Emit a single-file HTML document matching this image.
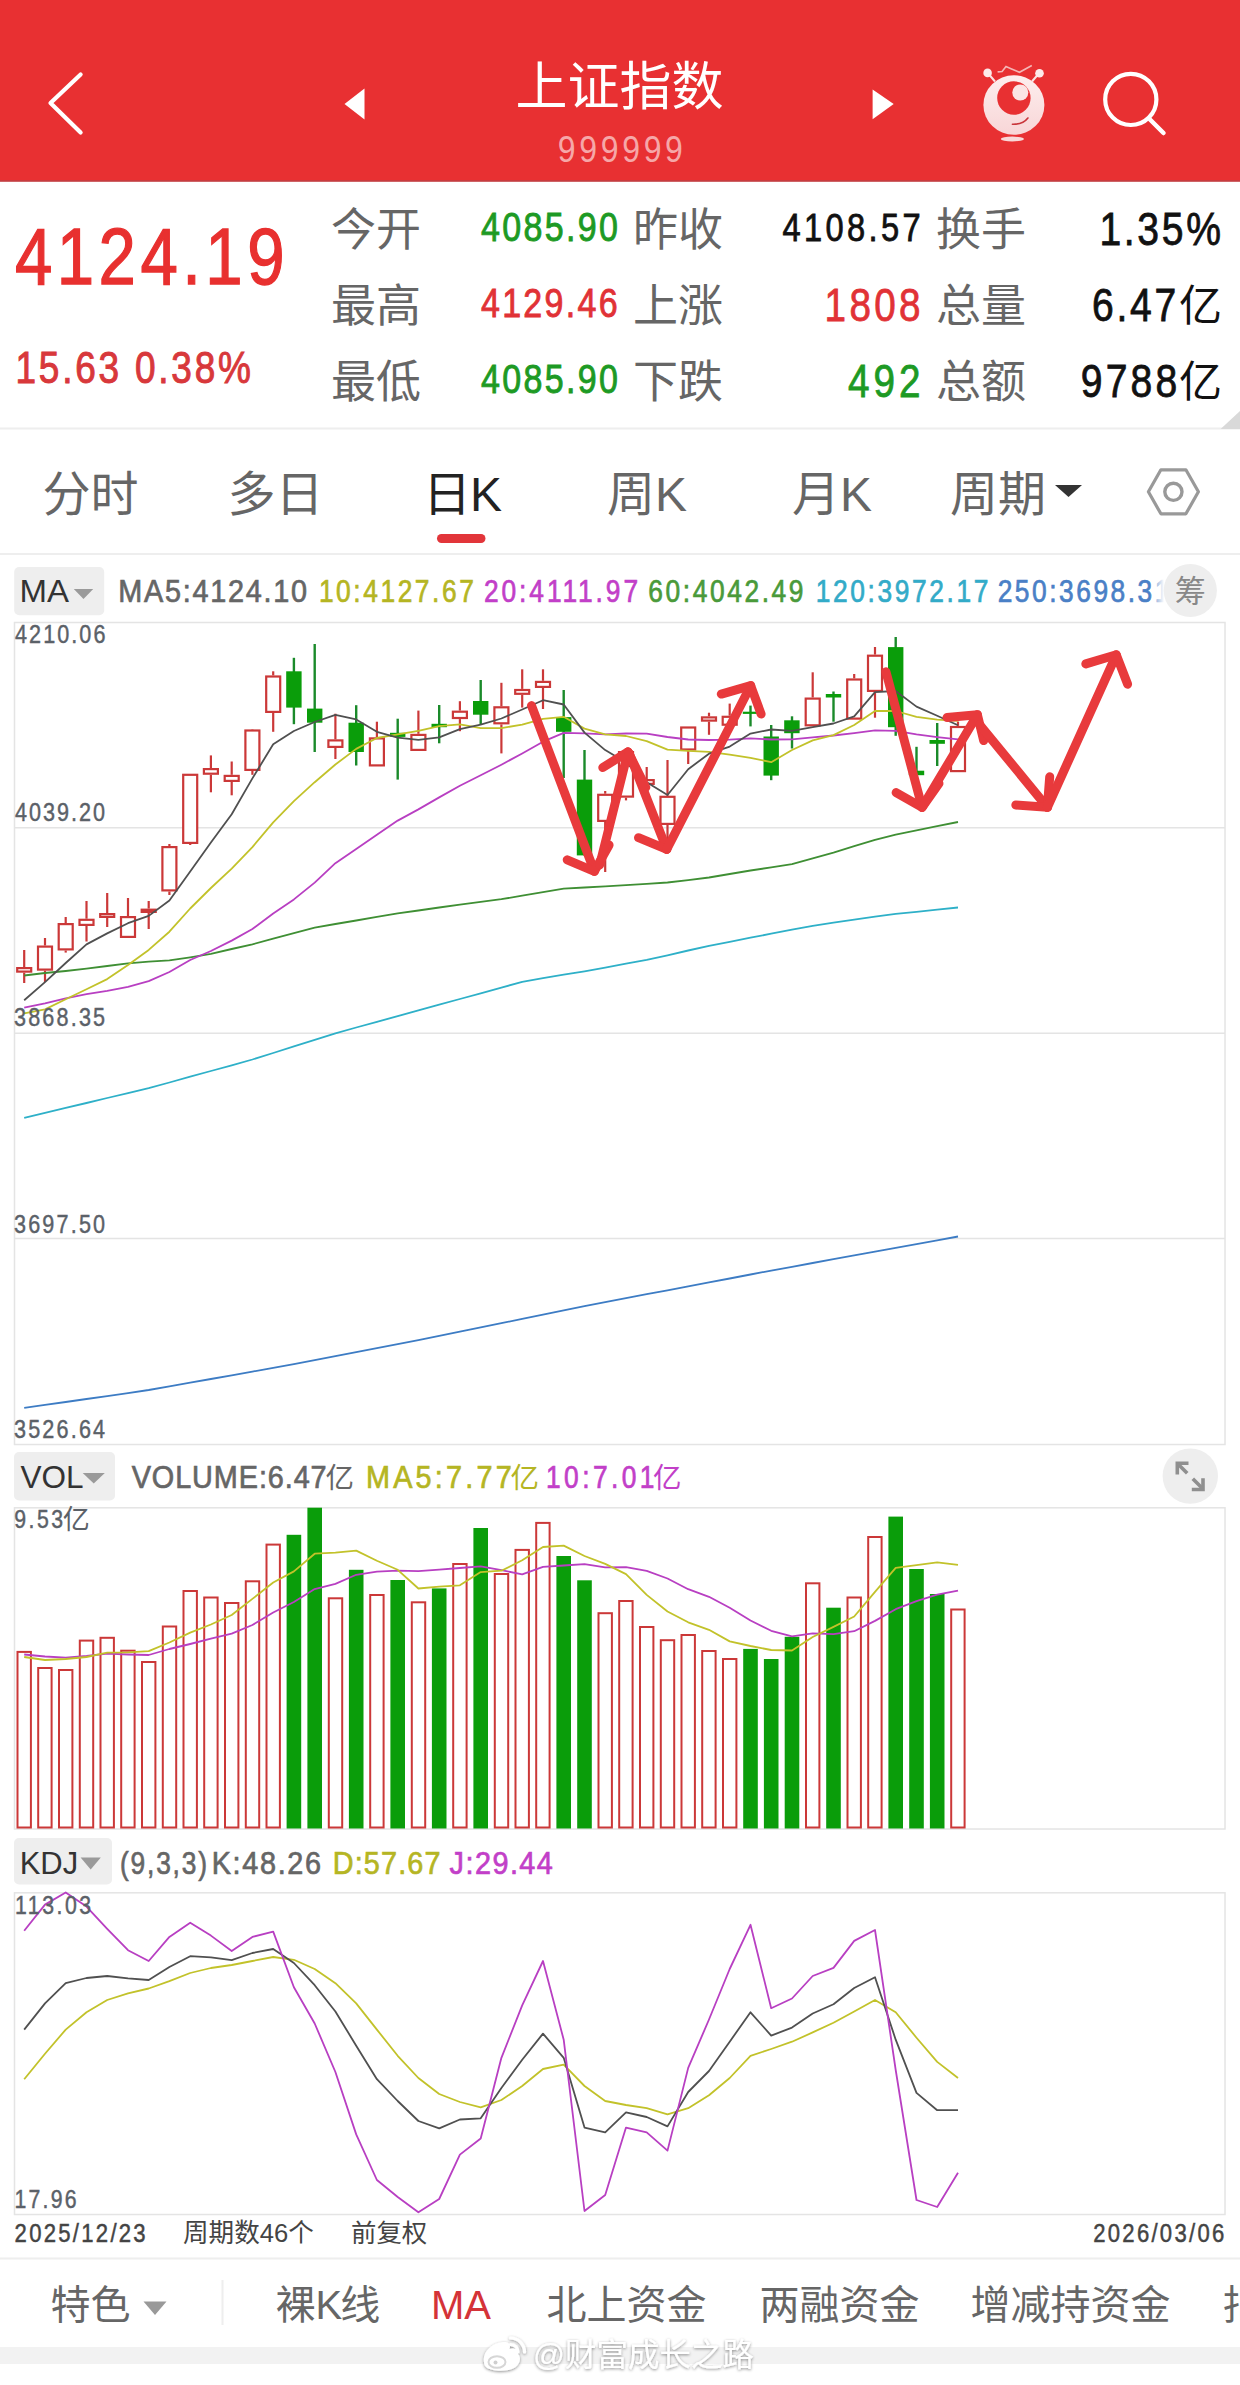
<!DOCTYPE html>
<html><head><meta charset="utf-8"><title>上证指数</title>
<style>
html,body{margin:0;padding:0;background:#fff;}
body{width:1240px;height:2385px;overflow:hidden;position:relative;}
svg{position:absolute;left:0;top:0;display:block;}
svg text{font-family:"Liberation Sans","Noto Sans CJK SC",sans-serif;}
</style></head><body>
<svg width="1240" height="2385" viewBox="0 0 1240 2385">
<rect x="14.5" y="622.5" width="1210.5" height="822.0" fill="none" stroke="#e4e4e4" stroke-width="1.5"/>
<line x1="14.5" y1="827.8" x2="1225" y2="827.8" stroke="#e4e4e4" stroke-width="1.5"/>
<line x1="14.5" y1="1033.2" x2="1225" y2="1033.2" stroke="#e4e4e4" stroke-width="1.5"/>
<line x1="14.5" y1="1238.6" x2="1225" y2="1238.6" stroke="#e4e4e4" stroke-width="1.5"/>
<rect x="14.5" y="1507.8" width="1210.5" height="321.20000000000005" fill="none" stroke="#e4e4e4" stroke-width="1.5"/>
<rect x="14.5" y="1892.8" width="1210.5" height="321.70000000000005" fill="none" stroke="#e4e4e4" stroke-width="1.5"/>
<line x1="24.2" y1="950" x2="24.2" y2="967" stroke="#cb3838" stroke-width="2.2"/>
<line x1="24.2" y1="972.7" x2="24.2" y2="983" stroke="#cb3838" stroke-width="2.2"/>
<rect x="17.2" y="968.1" width="14.0" height="3.5" fill="#fff" stroke="#cb3838" stroke-width="2.2"/>
<line x1="45.0" y1="938" x2="45.0" y2="945.5" stroke="#cb3838" stroke-width="2.2"/>
<line x1="45.0" y1="970.7" x2="45.0" y2="982" stroke="#cb3838" stroke-width="2.2"/>
<rect x="38.0" y="946.6" width="14.0" height="23.0" fill="#fff" stroke="#cb3838" stroke-width="2.2"/>
<line x1="65.7" y1="917" x2="65.7" y2="923" stroke="#cb3838" stroke-width="2.2"/>
<line x1="65.7" y1="950.5" x2="65.7" y2="952.6" stroke="#cb3838" stroke-width="2.2"/>
<rect x="58.7" y="924.1" width="14.0" height="25.3" fill="#fff" stroke="#cb3838" stroke-width="2.2"/>
<line x1="86.5" y1="901" x2="86.5" y2="918.7" stroke="#cb3838" stroke-width="2.2"/>
<line x1="86.5" y1="926" x2="86.5" y2="941.5" stroke="#cb3838" stroke-width="2.2"/>
<rect x="79.5" y="919.8" width="14.0" height="5.1" fill="#fff" stroke="#cb3838" stroke-width="2.2"/>
<line x1="107.2" y1="893" x2="107.2" y2="913" stroke="#cb3838" stroke-width="2.2"/>
<line x1="107.2" y1="918" x2="107.2" y2="927" stroke="#cb3838" stroke-width="2.2"/>
<rect x="100.2" y="914.1" width="14.0" height="2.8" fill="#fff" stroke="#cb3838" stroke-width="2.2"/>
<line x1="128.0" y1="898" x2="128.0" y2="916" stroke="#cb3838" stroke-width="2.2"/>
<line x1="128.0" y1="938" x2="128.0" y2="938" stroke="#cb3838" stroke-width="2.2"/>
<rect x="121.0" y="917.1" width="14.0" height="19.8" fill="#fff" stroke="#cb3838" stroke-width="2.2"/>
<line x1="148.7" y1="901" x2="148.7" y2="908.6" stroke="#cb3838" stroke-width="2.2"/>
<line x1="148.7" y1="913" x2="148.7" y2="929" stroke="#cb3838" stroke-width="2.2"/>
<rect x="141.7" y="909.7" width="14.0" height="2.2" fill="#fff" stroke="#cb3838" stroke-width="2.2"/>
<line x1="169.4" y1="844" x2="169.4" y2="846" stroke="#cb3838" stroke-width="2.2"/>
<line x1="169.4" y1="891.5" x2="169.4" y2="895" stroke="#cb3838" stroke-width="2.2"/>
<rect x="162.4" y="847.1" width="14.0" height="43.3" fill="#fff" stroke="#cb3838" stroke-width="2.2"/>
<line x1="190.2" y1="773.7" x2="190.2" y2="773.7" stroke="#cb3838" stroke-width="2.2"/>
<line x1="190.2" y1="844" x2="190.2" y2="845" stroke="#cb3838" stroke-width="2.2"/>
<rect x="183.2" y="774.8" width="14.0" height="68.1" fill="#fff" stroke="#cb3838" stroke-width="2.2"/>
<line x1="210.9" y1="755.4" x2="210.9" y2="768" stroke="#cb3838" stroke-width="2.2"/>
<line x1="210.9" y1="774.8" x2="210.9" y2="792.3" stroke="#cb3838" stroke-width="2.2"/>
<rect x="203.9" y="769.1" width="14.0" height="4.6" fill="#fff" stroke="#cb3838" stroke-width="2.2"/>
<line x1="231.7" y1="761.5" x2="231.7" y2="774.8" stroke="#cb3838" stroke-width="2.2"/>
<line x1="231.7" y1="782" x2="231.7" y2="795.3" stroke="#cb3838" stroke-width="2.2"/>
<rect x="224.7" y="775.9" width="14.0" height="5.0" fill="#fff" stroke="#cb3838" stroke-width="2.2"/>
<line x1="252.4" y1="729" x2="252.4" y2="729.4" stroke="#cb3838" stroke-width="2.2"/>
<line x1="252.4" y1="771" x2="252.4" y2="774.8" stroke="#cb3838" stroke-width="2.2"/>
<rect x="245.4" y="730.5" width="14.0" height="39.4" fill="#fff" stroke="#cb3838" stroke-width="2.2"/>
<line x1="273.2" y1="671.3" x2="273.2" y2="675.4" stroke="#cb3838" stroke-width="2.2"/>
<line x1="273.2" y1="713" x2="273.2" y2="731.8" stroke="#cb3838" stroke-width="2.2"/>
<rect x="266.2" y="676.5" width="14.0" height="35.4" fill="#fff" stroke="#cb3838" stroke-width="2.2"/>
<line x1="293.9" y1="657.8" x2="293.9" y2="724.2" stroke="#1a8a2a" stroke-width="2.4"/>
<rect x="286.2" y="671.3" width="15.4" height="36.3" fill="#0a9d0a"/>
<line x1="314.7" y1="644" x2="314.7" y2="752" stroke="#1a8a2a" stroke-width="2.4"/>
<rect x="307.0" y="708.6" width="15.4" height="14.1" fill="#0a9d0a"/>
<line x1="335.4" y1="713.7" x2="335.4" y2="739.3" stroke="#cb3838" stroke-width="2.2"/>
<line x1="335.4" y1="748" x2="335.4" y2="759" stroke="#cb3838" stroke-width="2.2"/>
<rect x="328.4" y="740.4" width="14.0" height="6.5" fill="#fff" stroke="#cb3838" stroke-width="2.2"/>
<line x1="356.2" y1="705.2" x2="356.2" y2="765.5" stroke="#1a8a2a" stroke-width="2.4"/>
<rect x="348.5" y="722.7" width="15.4" height="29.3" fill="#0a9d0a"/>
<line x1="376.9" y1="721.7" x2="376.9" y2="737.3" stroke="#cb3838" stroke-width="2.2"/>
<line x1="376.9" y1="766.5" x2="376.9" y2="766.5" stroke="#cb3838" stroke-width="2.2"/>
<rect x="369.9" y="738.4" width="14.0" height="27.0" fill="#fff" stroke="#cb3838" stroke-width="2.2"/>
<line x1="397.7" y1="718.7" x2="397.7" y2="779.6" stroke="#1a8a2a" stroke-width="2.4"/>
<rect x="390.0" y="732.8" width="15.4" height="4.1" fill="#0a9d0a"/>
<line x1="418.4" y1="710.6" x2="418.4" y2="733.8" stroke="#cb3838" stroke-width="2.2"/>
<line x1="418.4" y1="751" x2="418.4" y2="751" stroke="#cb3838" stroke-width="2.2"/>
<rect x="411.4" y="734.9" width="14.0" height="15.0" fill="#fff" stroke="#cb3838" stroke-width="2.2"/>
<line x1="439.2" y1="705" x2="439.2" y2="743.3" stroke="#1a8a2a" stroke-width="2.4"/>
<rect x="431.5" y="723.8" width="15.4" height="3.4" fill="#0a9d0a"/>
<line x1="459.9" y1="701.2" x2="459.9" y2="710.6" stroke="#cb3838" stroke-width="2.2"/>
<line x1="459.9" y1="719.1" x2="459.9" y2="731.2" stroke="#cb3838" stroke-width="2.2"/>
<rect x="452.9" y="711.7" width="14.0" height="6.3" fill="#fff" stroke="#cb3838" stroke-width="2.2"/>
<line x1="480.7" y1="680" x2="480.7" y2="724.8" stroke="#1a8a2a" stroke-width="2.4"/>
<rect x="473.0" y="701.0" width="15.4" height="13.7" fill="#0a9d0a"/>
<line x1="501.4" y1="682.8" x2="501.4" y2="706.2" stroke="#cb3838" stroke-width="2.2"/>
<line x1="501.4" y1="724.4" x2="501.4" y2="753.4" stroke="#cb3838" stroke-width="2.2"/>
<rect x="494.4" y="707.3" width="14.0" height="16.0" fill="#fff" stroke="#cb3838" stroke-width="2.2"/>
<line x1="522.2" y1="669.3" x2="522.2" y2="688.9" stroke="#cb3838" stroke-width="2.2"/>
<line x1="522.2" y1="694.9" x2="522.2" y2="707.6" stroke="#cb3838" stroke-width="2.2"/>
<rect x="515.2" y="690.0" width="14.0" height="3.8" fill="#fff" stroke="#cb3838" stroke-width="2.2"/>
<line x1="543.0" y1="669.3" x2="543.0" y2="680.8" stroke="#cb3838" stroke-width="2.2"/>
<line x1="543.0" y1="688" x2="543.0" y2="709" stroke="#cb3838" stroke-width="2.2"/>
<rect x="536.0" y="681.9" width="14.0" height="5.0" fill="#fff" stroke="#cb3838" stroke-width="2.2"/>
<line x1="563.7" y1="690" x2="563.7" y2="778" stroke="#1a8a2a" stroke-width="2.4"/>
<rect x="556.0" y="717.1" width="15.4" height="14.7" fill="#0a9d0a"/>
<line x1="584.5" y1="750" x2="584.5" y2="855.4" stroke="#1a8a2a" stroke-width="2.4"/>
<rect x="576.8" y="779.6" width="15.4" height="75.8" fill="#0a9d0a"/>
<line x1="605.2" y1="791" x2="605.2" y2="793.7" stroke="#cb3838" stroke-width="2.2"/>
<line x1="605.2" y1="822" x2="605.2" y2="872" stroke="#cb3838" stroke-width="2.2"/>
<rect x="598.2" y="794.8" width="14.0" height="26.1" fill="#fff" stroke="#cb3838" stroke-width="2.2"/>
<line x1="626.0" y1="748.5" x2="626.0" y2="751" stroke="#cb3838" stroke-width="2.2"/>
<line x1="626.0" y1="797.7" x2="626.0" y2="800.4" stroke="#cb3838" stroke-width="2.2"/>
<rect x="619.0" y="752.1" width="14.0" height="44.5" fill="#fff" stroke="#cb3838" stroke-width="2.2"/>
<line x1="646.7" y1="767" x2="646.7" y2="779" stroke="#cb3838" stroke-width="2.2"/>
<line x1="646.7" y1="785" x2="646.7" y2="790" stroke="#cb3838" stroke-width="2.2"/>
<rect x="639.7" y="780.1" width="14.0" height="3.8" fill="#fff" stroke="#cb3838" stroke-width="2.2"/>
<line x1="667.5" y1="760" x2="667.5" y2="795.7" stroke="#cb3838" stroke-width="2.2"/>
<line x1="667.5" y1="825" x2="667.5" y2="839.7" stroke="#cb3838" stroke-width="2.2"/>
<rect x="660.5" y="796.8" width="14.0" height="27.1" fill="#fff" stroke="#cb3838" stroke-width="2.2"/>
<line x1="688.2" y1="726.4" x2="688.2" y2="726.4" stroke="#cb3838" stroke-width="2.2"/>
<line x1="688.2" y1="750.6" x2="688.2" y2="764" stroke="#cb3838" stroke-width="2.2"/>
<rect x="681.2" y="727.5" width="14.0" height="22.0" fill="#fff" stroke="#cb3838" stroke-width="2.2"/>
<line x1="709.0" y1="712.7" x2="709.0" y2="716.3" stroke="#cb3838" stroke-width="2.2"/>
<line x1="709.0" y1="721.7" x2="709.0" y2="734.8" stroke="#cb3838" stroke-width="2.2"/>
<rect x="702.0" y="717.4" width="14.0" height="3.2" fill="#fff" stroke="#cb3838" stroke-width="2.2"/>
<line x1="729.7" y1="703.6" x2="729.7" y2="715.7" stroke="#cb3838" stroke-width="2.2"/>
<line x1="729.7" y1="725.8" x2="729.7" y2="725.8" stroke="#cb3838" stroke-width="2.2"/>
<rect x="722.7" y="716.8" width="14.0" height="7.9" fill="#fff" stroke="#cb3838" stroke-width="2.2"/>
<line x1="750.5" y1="705.6" x2="750.5" y2="726.4" stroke="#1a8a2a" stroke-width="2.4"/>
<rect x="742.8" y="711.7" width="15.4" height="2.2" fill="#0a9d0a"/>
<line x1="771.2" y1="725" x2="771.2" y2="780.2" stroke="#1a8a2a" stroke-width="2.4"/>
<rect x="763.5" y="736.5" width="15.4" height="39.1" fill="#0a9d0a"/>
<line x1="792.0" y1="716.3" x2="792.0" y2="748.5" stroke="#1a8a2a" stroke-width="2.4"/>
<rect x="784.2" y="720.3" width="15.4" height="12.9" fill="#0a9d0a"/>
<line x1="812.7" y1="672.3" x2="812.7" y2="697.5" stroke="#cb3838" stroke-width="2.2"/>
<line x1="812.7" y1="726.4" x2="812.7" y2="726.4" stroke="#cb3838" stroke-width="2.2"/>
<rect x="805.7" y="698.6" width="14.0" height="26.7" fill="#fff" stroke="#cb3838" stroke-width="2.2"/>
<line x1="833.5" y1="691.5" x2="833.5" y2="721.7" stroke="#1a8a2a" stroke-width="2.4"/>
<rect x="825.8" y="694.0" width="15.4" height="3.5" fill="#0a9d0a"/>
<line x1="854.2" y1="674" x2="854.2" y2="678.4" stroke="#cb3838" stroke-width="2.2"/>
<line x1="854.2" y1="719.7" x2="854.2" y2="719.7" stroke="#cb3838" stroke-width="2.2"/>
<rect x="847.2" y="679.5" width="14.0" height="39.1" fill="#fff" stroke="#cb3838" stroke-width="2.2"/>
<line x1="875.0" y1="647" x2="875.0" y2="654.6" stroke="#cb3838" stroke-width="2.2"/>
<line x1="875.0" y1="692" x2="875.0" y2="717.7" stroke="#cb3838" stroke-width="2.2"/>
<rect x="868.0" y="655.7" width="14.0" height="35.2" fill="#fff" stroke="#cb3838" stroke-width="2.2"/>
<line x1="895.7" y1="637" x2="895.7" y2="735.8" stroke="#1a8a2a" stroke-width="2.4"/>
<rect x="888.0" y="647.1" width="15.4" height="80.1" fill="#0a9d0a"/>
<line x1="916.5" y1="746.8" x2="916.5" y2="775.2" stroke="#1a8a2a" stroke-width="2.4"/>
<rect x="908.8" y="770.7" width="15.4" height="4.5" fill="#0a9d0a"/>
<line x1="937.2" y1="723" x2="937.2" y2="766" stroke="#1a8a2a" stroke-width="2.4"/>
<rect x="929.5" y="740.0" width="15.4" height="3.8" fill="#0a9d0a"/>
<line x1="958.0" y1="721.5" x2="958.0" y2="725.9" stroke="#cb3838" stroke-width="2.2"/>
<line x1="958.0" y1="772.2" x2="958.0" y2="772.2" stroke="#cb3838" stroke-width="2.2"/>
<rect x="951.0" y="727.0" width="14.0" height="44.1" fill="#fff" stroke="#cb3838" stroke-width="2.2"/>
<polyline points="24.2,1407.9 45.0,1404.9 65.7,1402.0 86.5,1399.0 107.2,1396.1 128.0,1393.1 148.7,1390.0 169.4,1386.4 190.2,1382.7 210.9,1379.0 231.7,1375.3 252.4,1371.6 273.2,1367.9 293.9,1364.2 314.7,1360.2 335.4,1356.2 356.2,1352.2 376.9,1348.2 397.7,1344.2 418.4,1340.2 439.2,1335.9 459.9,1331.7 480.7,1327.4 501.4,1323.2 522.2,1318.9 543.0,1314.7 563.7,1310.4 584.5,1306.1 605.2,1302.1 626.0,1298.2 646.7,1294.2 667.5,1290.3 688.2,1286.3 709.0,1282.4 729.7,1278.5 750.5,1274.5 771.2,1270.6 792.0,1266.8 812.7,1263.0 833.5,1259.2 854.2,1255.4 875.0,1251.7 895.7,1247.9 916.5,1244.1 937.2,1240.3 958.0,1236.5" fill="none" stroke="#3d7cc4" stroke-width="1.8" stroke-linejoin="round"/>
<polyline points="24.2,1117.8 45.0,1112.8 65.7,1107.9 86.5,1103.0 107.2,1098.0 128.0,1093.1 148.7,1088.2 169.4,1082.5 190.2,1076.7 210.9,1071.0 231.7,1065.3 252.4,1059.5 273.2,1053.0 293.9,1046.4 314.7,1039.9 335.4,1033.3 356.2,1027.5 376.9,1021.8 397.7,1016.1 418.4,1010.4 439.2,1004.7 459.9,999.0 480.7,993.3 501.4,987.6 522.2,981.8 543.0,978.2 563.7,974.7 584.5,971.3 605.2,967.6 626.0,963.7 646.7,959.9 667.5,955.3 688.2,950.5 709.0,945.8 729.7,941.8 750.5,937.7 771.2,933.7 792.0,929.7 812.7,925.8 833.5,922.6 854.2,919.6 875.0,916.6 895.7,913.9 916.5,911.8 937.2,909.6 958.0,907.5" fill="none" stroke="#2eb0c8" stroke-width="1.8" stroke-linejoin="round"/>
<polyline points="24.2,975.5 45.0,973.0 65.7,971.0 86.5,968.6 107.2,966.0 128.0,963.4 148.7,961.6 169.4,960.4 190.2,957.3 210.9,953.9 231.7,949.0 252.4,944.3 273.2,938.7 293.9,933.1 314.7,927.6 335.4,924.0 356.2,920.5 376.9,916.9 397.7,913.4 418.4,910.5 439.2,907.5 459.9,904.6 480.7,901.8 501.4,899.2 522.2,895.7 543.0,892.2 563.7,888.7 584.5,887.5 605.2,886.4 626.0,885.1 646.7,883.8 667.5,882.5 688.2,880.2 709.0,877.5 729.7,874.0 750.5,870.5 771.2,867.4 792.0,864.2 812.7,858.4 833.5,852.6 854.2,846.2 875.0,839.8 895.7,834.6 916.5,830.4 937.2,826.2 958.0,822.0" fill="none" stroke="#3f8f34" stroke-width="1.8" stroke-linejoin="round"/>
<polyline points="24.2,1007.7 45.0,1003.3 65.7,998.3 86.5,994.2 107.2,990.8 128.0,986.8 148.7,981.1 169.4,972.0 190.2,960.0 210.9,951.0 231.7,940.6 252.4,929.0 273.2,913.5 293.9,899.4 314.7,882.6 335.4,863.2 356.2,849.0 376.9,834.8 397.7,820.6 418.4,809.4 439.2,797.4 459.9,785.7 480.7,775.3 501.4,764.7 522.2,753.5 543.0,741.7 563.7,732.9 584.5,733.3 605.2,734.3 626.0,733.5 646.7,733.7 667.5,737.0 688.2,739.5 709.0,740.0 729.7,739.6 750.5,738.4 771.2,739.5 792.0,739.3 812.7,737.4 833.5,735.5 854.2,733.1 875.0,730.3 895.7,730.9 916.5,734.4 937.2,737.1 958.0,739.4" fill="none" stroke="#b83fc2" stroke-width="1.8" stroke-linejoin="round"/>
<polyline points="24.2,1013.4 45.0,1009.4 65.7,999.3 86.5,989.2 107.2,979.1 128.0,965.0 148.7,949.9 169.4,931.7 190.2,908.5 210.9,888.0 231.7,868.7 252.4,847.1 273.2,822.4 293.9,801.2 314.7,782.2 335.4,764.5 356.2,748.9 376.9,738.0 397.7,734.3 418.4,730.9 439.2,726.2 459.9,724.3 480.7,728.2 501.4,728.1 522.2,724.7 543.0,718.8 563.7,716.8 584.5,728.6 605.2,734.3 626.0,736.0 646.7,741.2 667.5,749.7 688.2,750.9 709.0,751.9 729.7,754.6 750.5,757.9 771.2,762.2 792.0,750.0 812.7,740.4 833.5,735.1 854.2,725.0 875.0,710.9 895.7,711.0 916.5,716.9 937.2,719.7 958.0,720.9" fill="none" stroke="#c2c22a" stroke-width="1.8" stroke-linejoin="round"/>
<polyline points="24.2,1000.3 45.0,982.1 65.7,963.0 86.5,944.4 107.2,933.4 128.0,923.2 148.7,915.9 169.4,900.5 190.2,871.5 210.9,842.5 231.7,814.2 252.4,778.4 273.2,744.3 293.9,731.0 314.7,722.0 335.4,714.9 356.2,719.4 376.9,731.8 397.7,737.6 418.4,739.9 439.2,737.4 459.9,729.2 480.7,724.6 501.4,718.5 522.2,709.5 543.0,700.2 563.7,704.5 584.5,732.6 605.2,750.1 626.0,762.5 646.7,782.2 667.5,795.0 688.2,769.2 709.0,753.7 729.7,746.6 750.5,733.6 771.2,729.5 792.0,730.9 812.7,727.1 833.5,723.5 854.2,716.4 875.0,692.2 895.7,691.0 916.5,706.6 937.2,715.8 958.0,725.3" fill="none" stroke="#505050" stroke-width="1.8" stroke-linejoin="round"/>
<polyline points="531.5,705.6 594.4,871.3" fill="none" stroke="#e83a3c" stroke-width="9" stroke-linecap="round" stroke-linejoin="round"/>
<polyline points="567.2,859.8 594.4,871.3 609.1,845" fill="none" stroke="#e83a3c" stroke-width="9" stroke-linecap="round" stroke-linejoin="round"/>
<polyline points="599.7,865 628,751.8" fill="none" stroke="#e83a3c" stroke-width="9" stroke-linecap="round" stroke-linejoin="round"/>
<polyline points="602.8,767.5 628,751.8 645.8,787.4" fill="none" stroke="#e83a3c" stroke-width="9" stroke-linecap="round" stroke-linejoin="round"/>
<polyline points="629,753 666.8,849.3" fill="none" stroke="#e83a3c" stroke-width="9" stroke-linecap="round" stroke-linejoin="round"/>
<polyline points="638.5,837.7 666.8,849.3" fill="none" stroke="#e83a3c" stroke-width="9" stroke-linecap="round" stroke-linejoin="round"/>
<polyline points="666.8,849.3 750.7,685.7" fill="none" stroke="#e83a3c" stroke-width="9" stroke-linecap="round" stroke-linejoin="round"/>
<polyline points="721.3,694.1 750.7,685.7 761.1,714" fill="none" stroke="#e83a3c" stroke-width="9" stroke-linecap="round" stroke-linejoin="round"/>
<polyline points="886,671.8 922.1,807.3" fill="none" stroke="#e83a3c" stroke-width="9" stroke-linecap="round" stroke-linejoin="round"/>
<polyline points="896.1,792.6 922.1,807.3 939,783.5" fill="none" stroke="#e83a3c" stroke-width="9" stroke-linecap="round" stroke-linejoin="round"/>
<polyline points="922.1,807.3 977.4,714.7" fill="none" stroke="#e83a3c" stroke-width="9" stroke-linecap="round" stroke-linejoin="round"/>
<polyline points="947,717.6 977.4,714.7 983.7,740.6" fill="none" stroke="#e83a3c" stroke-width="9" stroke-linecap="round" stroke-linejoin="round"/>
<polyline points="979.7,724.8 1047.4,807.3" fill="none" stroke="#e83a3c" stroke-width="9" stroke-linecap="round" stroke-linejoin="round"/>
<polyline points="1015.8,805 1047.4,807.3 1049.7,776.8" fill="none" stroke="#e83a3c" stroke-width="9" stroke-linecap="round" stroke-linejoin="round"/>
<polyline points="1047.4,807.3 1116.3,654.8" fill="none" stroke="#e83a3c" stroke-width="9" stroke-linecap="round" stroke-linejoin="round"/>
<polyline points="1085.8,663.9 1116.3,654.8 1127.6,684.2" fill="none" stroke="#e83a3c" stroke-width="9" stroke-linecap="round" stroke-linejoin="round"/>
<rect x="17.5" y="1651.9" width="13.4" height="175.6" fill="#fff" stroke="#cb3838" stroke-width="2"/>
<rect x="38.2" y="1668.0" width="13.4" height="159.5" fill="#fff" stroke="#cb3838" stroke-width="2"/>
<rect x="59.0" y="1670.0" width="13.4" height="157.5" fill="#fff" stroke="#cb3838" stroke-width="2"/>
<rect x="79.8" y="1640.6" width="13.4" height="186.9" fill="#fff" stroke="#cb3838" stroke-width="2"/>
<rect x="100.5" y="1637.8" width="13.4" height="189.7" fill="#fff" stroke="#cb3838" stroke-width="2"/>
<rect x="121.2" y="1650.7" width="13.4" height="176.8" fill="#fff" stroke="#cb3838" stroke-width="2"/>
<rect x="142.0" y="1662.0" width="13.4" height="165.5" fill="#fff" stroke="#cb3838" stroke-width="2"/>
<rect x="162.8" y="1626.5" width="13.4" height="201.0" fill="#fff" stroke="#cb3838" stroke-width="2"/>
<rect x="183.5" y="1591.0" width="13.4" height="236.5" fill="#fff" stroke="#cb3838" stroke-width="2"/>
<rect x="204.2" y="1597.5" width="13.4" height="230.0" fill="#fff" stroke="#cb3838" stroke-width="2"/>
<rect x="225.0" y="1603.0" width="13.4" height="224.5" fill="#fff" stroke="#cb3838" stroke-width="2"/>
<rect x="245.8" y="1581.3" width="13.4" height="246.2" fill="#fff" stroke="#cb3838" stroke-width="2"/>
<rect x="266.5" y="1544.6" width="13.4" height="282.9" fill="#fff" stroke="#cb3838" stroke-width="2"/>
<rect x="286.6" y="1534.8" width="14.6" height="293.7" fill="#0a9d0a"/>
<rect x="307.4" y="1507.7" width="14.6" height="320.8" fill="#0a9d0a"/>
<rect x="328.8" y="1598.3" width="13.4" height="229.2" fill="#fff" stroke="#cb3838" stroke-width="2"/>
<rect x="348.9" y="1569.8" width="14.6" height="258.7" fill="#0a9d0a"/>
<rect x="370.2" y="1595.0" width="13.4" height="232.5" fill="#fff" stroke="#cb3838" stroke-width="2"/>
<rect x="390.4" y="1580.0" width="14.6" height="248.5" fill="#0a9d0a"/>
<rect x="411.8" y="1602.3" width="13.4" height="225.2" fill="#fff" stroke="#cb3838" stroke-width="2"/>
<rect x="431.9" y="1588.4" width="14.6" height="240.1" fill="#0a9d0a"/>
<rect x="453.2" y="1564.0" width="13.4" height="263.5" fill="#fff" stroke="#cb3838" stroke-width="2"/>
<rect x="473.4" y="1528.0" width="14.6" height="300.5" fill="#0a9d0a"/>
<rect x="494.8" y="1574.0" width="13.4" height="253.5" fill="#fff" stroke="#cb3838" stroke-width="2"/>
<rect x="515.5" y="1549.9" width="13.4" height="277.6" fill="#fff" stroke="#cb3838" stroke-width="2"/>
<rect x="536.2" y="1522.9" width="13.4" height="304.6" fill="#fff" stroke="#cb3838" stroke-width="2"/>
<rect x="556.4" y="1556.0" width="14.6" height="272.5" fill="#0a9d0a"/>
<rect x="577.2" y="1580.3" width="14.6" height="248.2" fill="#0a9d0a"/>
<rect x="598.5" y="1613.2" width="13.4" height="214.3" fill="#fff" stroke="#cb3838" stroke-width="2"/>
<rect x="619.2" y="1601.0" width="13.4" height="226.5" fill="#fff" stroke="#cb3838" stroke-width="2"/>
<rect x="640.0" y="1627.0" width="13.4" height="200.5" fill="#fff" stroke="#cb3838" stroke-width="2"/>
<rect x="660.8" y="1640.2" width="13.4" height="187.3" fill="#fff" stroke="#cb3838" stroke-width="2"/>
<rect x="681.5" y="1635.0" width="13.4" height="192.5" fill="#fff" stroke="#cb3838" stroke-width="2"/>
<rect x="702.2" y="1651.0" width="13.4" height="176.5" fill="#fff" stroke="#cb3838" stroke-width="2"/>
<rect x="723.0" y="1659.0" width="13.4" height="168.5" fill="#fff" stroke="#cb3838" stroke-width="2"/>
<rect x="743.2" y="1648.9" width="14.6" height="179.6" fill="#0a9d0a"/>
<rect x="763.9" y="1659.0" width="14.6" height="169.5" fill="#0a9d0a"/>
<rect x="784.7" y="1636.8" width="14.6" height="191.7" fill="#0a9d0a"/>
<rect x="806.0" y="1583.3" width="13.4" height="244.2" fill="#fff" stroke="#cb3838" stroke-width="2"/>
<rect x="826.2" y="1607.7" width="14.6" height="220.8" fill="#0a9d0a"/>
<rect x="847.5" y="1597.5" width="13.4" height="230.0" fill="#fff" stroke="#cb3838" stroke-width="2"/>
<rect x="868.2" y="1537.0" width="13.4" height="290.5" fill="#fff" stroke="#cb3838" stroke-width="2"/>
<rect x="888.4" y="1516.6" width="14.6" height="311.9" fill="#0a9d0a"/>
<rect x="909.2" y="1569.0" width="14.6" height="259.5" fill="#0a9d0a"/>
<rect x="929.9" y="1594.0" width="14.6" height="234.5" fill="#0a9d0a"/>
<rect x="951.2" y="1609.5" width="13.4" height="218.0" fill="#fff" stroke="#cb3838" stroke-width="2"/>
<polyline points="24.2,1654.5 45.0,1656.5 65.7,1657.7 86.5,1656.0 107.2,1653.7 128.0,1654.5 148.7,1655.0 169.4,1649.0 190.2,1644.0 210.9,1638.6 231.7,1633.7 252.4,1625.0 273.2,1612.5 293.9,1602.0 314.7,1589.1 335.4,1583.9 356.2,1574.8 376.9,1571.6 397.7,1570.6 418.4,1571.1 439.2,1569.7 459.9,1568.0 480.7,1566.4 501.4,1570.2 522.2,1574.4 543.0,1566.8 563.7,1565.5 584.5,1564.1 605.2,1567.3 626.0,1567.2 646.7,1570.9 667.5,1578.5 688.2,1589.2 709.0,1596.8 729.7,1607.8 750.5,1620.5 771.2,1630.8 792.0,1636.4 812.7,1633.4 833.5,1634.2 854.2,1631.2 875.0,1620.9 895.7,1609.2 916.5,1601.1 937.2,1594.7 958.0,1590.6" fill="none" stroke="#b83fc2" stroke-width="1.8" stroke-linejoin="round"/>
<polyline points="24.2,1657.0 45.0,1660.0 65.7,1659.0 86.5,1657.0 107.2,1652.7 128.0,1652.4 148.7,1651.2 169.4,1642.5 190.2,1632.6 210.9,1624.5 231.7,1615.0 252.4,1598.9 273.2,1582.5 293.9,1571.4 314.7,1553.7 335.4,1552.7 356.2,1550.6 376.9,1560.7 397.7,1569.8 418.4,1588.5 439.2,1586.7 459.9,1585.3 480.7,1572.1 501.4,1570.7 522.2,1560.3 543.0,1547.0 563.7,1545.6 584.5,1556.0 605.2,1563.9 626.0,1574.1 646.7,1594.9 667.5,1611.5 688.2,1622.3 709.0,1629.8 729.7,1641.4 750.5,1646.0 771.2,1650.0 792.0,1650.5 812.7,1637.0 833.5,1626.9 854.2,1616.5 875.0,1591.9 895.7,1567.8 916.5,1565.2 937.2,1562.4 958.0,1564.8" fill="none" stroke="#c2c22a" stroke-width="1.8" stroke-linejoin="round"/>
<polyline points="24.2,2079.2 45.0,2053.8 65.7,2029.6 86.5,2012.3 107.2,2000.0 128.0,1993.3 148.7,1988.5 169.4,1981.2 190.2,1973.0 210.9,1968.0 231.7,1965.0 252.4,1961.0 273.2,1957.0 293.9,1959.8 314.7,1969.0 335.4,1983.2 356.2,2003.4 376.9,2029.6 397.7,2055.8 418.4,2078.0 439.2,2094.0 459.9,2102.0 480.7,2107.4 501.4,2100.0 522.2,2086.0 543.0,2069.0 563.7,2064.7 584.5,2086.0 605.2,2101.0 626.0,2105.0 646.7,2108.2 667.5,2114.3 688.2,2108.2 709.0,2095.3 729.7,2078.0 750.5,2055.8 771.2,2049.0 792.0,2041.7 812.7,2032.4 833.5,2022.7 854.2,2011.5 875.0,2000.0 895.7,2012.3 916.5,2037.7 937.2,2061.9 958.0,2078.0" fill="none" stroke="#c2c22a" stroke-width="1.8" stroke-linejoin="round"/>
<polyline points="24.2,2029.6 45.0,2003.4 65.7,1983.2 86.5,1978.0 107.2,1976.0 128.0,1978.4 148.7,1980.0 169.4,1967.0 190.2,1956.2 210.9,1957.4 231.7,1960.2 252.4,1953.0 273.2,1949.0 293.9,1963.0 314.7,1985.2 335.4,2011.5 356.2,2045.7 376.9,2079.2 397.7,2101.0 418.4,2121.0 439.2,2128.4 459.9,2119.5 480.7,2118.3 501.4,2088.0 522.2,2059.8 543.0,2033.6 563.7,2057.8 584.5,2127.6 605.2,2132.4 626.0,2112.3 646.7,2117.0 667.5,2126.4 688.2,2092.0 709.0,2071.0 729.7,2041.7 750.5,2012.3 771.2,2035.6 792.0,2027.6 812.7,2013.5 833.5,2004.2 854.2,1988.0 875.0,1977.2 895.7,2039.7 916.5,2092.9 937.2,2110.2 958.0,2110.2" fill="none" stroke="#505050" stroke-width="1.8" stroke-linejoin="round"/>
<polyline points="24.2,1930.8 45.0,1904.6 65.7,1892.5 86.5,1906.6 107.2,1928.8 128.0,1950.2 148.7,1961.0 169.4,1936.9 190.2,1922.7 210.9,1935.6 231.7,1951.0 252.4,1936.9 273.2,1931.6 293.9,1987.3 314.7,2023.5 335.4,2072.0 356.2,2134.4 376.9,2180.0 397.7,2197.0 418.4,2212.3 439.2,2199.0 459.9,2154.6 480.7,2138.5 501.4,2057.8 522.2,2005.4 543.0,1961.0 563.7,2039.7 584.5,2211.0 605.2,2195.0 626.0,2127.6 646.7,2132.4 667.5,2150.6 688.2,2067.9 709.0,2019.5 729.7,1969.0 750.5,1924.8 771.2,2008.2 792.0,1998.5 812.7,1976.0 833.5,1967.9 854.2,1940.9 875.0,1930.0 895.7,2070.0 916.5,2200.0 937.2,2207.0 958.0,2172.7" fill="none" stroke="#b83fc2" stroke-width="1.8" stroke-linejoin="round"/>
<rect x="0" y="0" width="1240" height="181.5" fill="#e83032"/>
<rect x="0" y="180.3" width="1240" height="1.3" fill="#b84246"/>
<polyline points="80.6,74.5 50.5,103 80.6,132.5" fill="none" stroke="#fff" stroke-width="4.2" stroke-linecap="round" stroke-linejoin="round"/>
<polygon points="344.5,104 364.5,88.5 364.5,119.5" fill="#fff"/>
<polygon points="872.6,89.5 893.7,104 872.6,119.2" fill="#fff"/>
<text x="619.4" y="104.8" font-size="52" fill="#fff" text-anchor="middle">上证指数</text>
<text transform="translate(557.7,162.3) scale(0.85,1)" x="0" y="0" font-size="37.6" fill="#f6a7a8" letter-spacing="4.376">999999</text>
<defs><linearGradient id="rg" x1="0" y1="0" x2="0" y2="1"><stop offset="0" stop-color="#fdeeee"/><stop offset="1" stop-color="#f8d6d7"/></linearGradient>
<filter id="ws" x="-20%" y="-50%" width="140%" height="200%"><feGaussianBlur in="SourceAlpha" stdDeviation="1.6"/><feOffset dx="0" dy="0.5" result="b"/><feFlood flood-color="#000" flood-opacity="0.45"/><feComposite in2="b" operator="in"/><feMerge><feMergeNode/><feMergeNode in="SourceGraphic"/></feMerge></filter></defs>
<g>
<line x1="989.5" y1="75" x2="995" y2="81.5" stroke="#fbe3e3" stroke-width="2"/>
<line x1="1037.5" y1="75" x2="1032" y2="81.5" stroke="#fbe3e3" stroke-width="2"/>
<circle cx="987.6" cy="72.9" r="4.3" fill="#fdeaea"/>
<circle cx="1039.5" cy="73.2" r="4.3" fill="#fdeaea"/>
<polyline points="997.6,71.9 1002.1,71.6 1006,66.5 1011,68.7 1019.5,72.3 1031.8,65.5" fill="none" stroke="#f5b5b5" stroke-width="1.6"/>
<ellipse cx="1013.9" cy="105" rx="30.5" ry="29.8" fill="url(#rg)"/>
<circle cx="1013.9" cy="98" r="16.7" fill="#e83032"/>
<circle cx="1020.3" cy="92.5" r="8" fill="#fbe4e4"/>
<path d="M1012.4,124.2 Q1023,124.5 1027.9,118" fill="none" stroke="#c9363b" stroke-width="1.6" stroke-linecap="round"/>
<ellipse cx="1012.4" cy="139" rx="11.6" ry="2.4" fill="#f8d8d8"/>
</g>
<circle cx="1130.8" cy="99.4" r="25.6" fill="none" stroke="#fff" stroke-width="4.2"/>
<line x1="1150" y1="119.5" x2="1163.5" y2="133" stroke="#fff" stroke-width="4.5" stroke-linecap="round"/>
<text transform="translate(15.0,284.2) scale(0.85,1)" x="0" y="0" font-size="79" fill="#e8302f" stroke="#e8302f" stroke-width="1.3" letter-spacing="5.257">4124.19</text>
<text transform="translate(15.5,383) scale(0.85,1)" x="0" y="0" font-size="43.5" fill="#d8383b" stroke="#d8383b" stroke-width="1.0" letter-spacing="3.271">15.63 0.38%</text>
<text x="331" y="245.7" font-size="45" fill="#666666">今开</text>
<text x="331" y="321.9" font-size="45" fill="#666666">最高</text>
<text x="331" y="398.1" font-size="45" fill="#666666">最低</text>
<text x="633" y="245.7" font-size="45" fill="#666666">昨收</text>
<text x="633" y="321.9" font-size="45" fill="#666666">上涨</text>
<text x="633" y="398.1" font-size="45" fill="#666666">下跌</text>
<text x="936" y="245.7" font-size="45" fill="#666666">换手</text>
<text x="936" y="321.9" font-size="45" fill="#666666">总量</text>
<text x="936" y="398.1" font-size="45" fill="#666666">总额</text>
<text transform="translate(481.0,241) scale(0.85,1)" x="0" y="0" font-size="40" fill="#1d9a24" stroke="#1d9a24" stroke-width="0.9" letter-spacing="2.76">4085.90</text>
<text transform="translate(481.0,317.2) scale(0.85,1)" x="0" y="0" font-size="40" fill="#e13236" stroke="#e13236" stroke-width="0.9" letter-spacing="2.68">4129.46</text>
<text transform="translate(481.0,393.3) scale(0.85,1)" x="0" y="0" font-size="40" fill="#1d9a24" stroke="#1d9a24" stroke-width="0.9" letter-spacing="2.76">4085.90</text>
<text transform="translate(782.6,240.8) scale(0.85,1)" x="0" y="0" font-size="38.4" fill="#111111" stroke="#111111" stroke-width="0.8" letter-spacing="3.94">4108.57</text>
<text transform="translate(824.6,320.6) scale(0.85,1)" x="0" y="0" font-size="45.5" fill="#e13236" stroke="#e13236" stroke-width="0.8" letter-spacing="3.88">1808</text>
<text transform="translate(847.9,397) scale(0.85,1)" x="0" y="0" font-size="45.5" fill="#1d9a24" stroke="#1d9a24" stroke-width="0.8" letter-spacing="4.8">492</text>
<text transform="translate(1099.4,245) scale(0.85,1)" x="0" y="0" font-size="46" fill="#111111" stroke="#111111" stroke-width="0.8" letter-spacing="3.143">1.35%</text>
<text transform="translate(1092.1,321.2) scale(0.85,1)" x="0" y="0" font-size="46" fill="#111111" stroke="#111111" stroke-width="0.8" letter-spacing="3.16">6.47</text>
<text x="1222" y="321.2" font-size="43" fill="#111" text-anchor="end">亿</text>
<text transform="translate(1080.8,397.1) scale(0.85,1)" x="0" y="0" font-size="46" fill="#111111" stroke="#111111" stroke-width="0.8" letter-spacing="3.68">9788</text>
<text x="1222" y="397.1" font-size="43" fill="#111" text-anchor="end">亿</text>
<rect x="0" y="427.5" width="1240" height="2" fill="#eeeeee"/>
<polygon points="1220.6,429 1240,429 1240,411" fill="#d9d9d9"/>
<text x="42.6" y="511" font-size="48" fill="#666666">分时</text>
<text x="227.6" y="511" font-size="48" fill="#666666">多日</text>
<text x="606.9" y="511" font-size="48" fill="#666666">周K</text>
<text x="792.1" y="511" font-size="48" fill="#666666">月K</text>
<text x="950.1" y="511" font-size="48" fill="#666666">周期</text>
<text x="423" y="511" font-size="48" fill="#222" letter-spacing="-1">日K</text>
<polygon points="1055,485 1082,485 1068.5,497" fill="#333"/>
<polygon points="1148.4,491.8 1160.9,469.8 1185.9,469.8 1198.4,491.8 1185.9,513.8 1160.9,513.8" fill="none" stroke="#999" stroke-width="3.2" stroke-linejoin="round"/>
<circle cx="1173.4" cy="491.8" r="8.6" fill="none" stroke="#999" stroke-width="3.4"/>
<rect x="437" y="534" width="48.5" height="9" rx="4.5" fill="#e2353a"/>
<rect x="0" y="553" width="1240" height="2" fill="#eeeeee"/>
<rect x="14.2" y="567" width="90" height="48.3" rx="5" fill="#eeeeee"/>
<text x="19.5" y="602.4" font-size="31" fill="#333" textLength="49.5" lengthAdjust="spacingAndGlyphs">MA</text>
<polygon points="73.8,589 93.2,589 83.5,599" fill="#9a9a9a"/>
<text transform="translate(118.3,602.4) scale(0.93,1)" x="0" y="0" font-size="31" fill="#666666" stroke="#666666" stroke-width="0.7" letter-spacing="1.87">MA5:4124.10</text>
<text transform="translate(318.9,602.4) scale(0.85,1)" x="0" y="0" font-size="31" fill="#b5b523" stroke="#b5b523" stroke-width="0.7" letter-spacing="3.019">10:4127.67</text>
<text transform="translate(484.0,602.4) scale(0.85,1)" x="0" y="0" font-size="31" fill="#c23fc8" stroke="#c23fc8" stroke-width="0.7" letter-spacing="3.419">20:4111.97</text>
<text transform="translate(648.3,602.4) scale(0.85,1)" x="0" y="0" font-size="31" fill="#4a9a3a" stroke="#4a9a3a" stroke-width="0.7" letter-spacing="3.058">60:4042.49</text>
<text transform="translate(815.7,602.4) scale(0.85,1)" x="0" y="0" font-size="31" fill="#33abc8" stroke="#33abc8" stroke-width="0.7" letter-spacing="3.094">120:3972.17</text>
<text transform="translate(997.7,602.4) scale(0.85,1)" x="0" y="0" font-size="31" fill="#4a80c6" stroke="#4a80c6" stroke-width="0.7" letter-spacing="2.976">250:3698.31</text>
<defs><linearGradient id="fd" x1="0" y1="0" x2="1" y2="0"><stop offset="0" stop-color="#fff" stop-opacity="0"/><stop offset="1" stop-color="#fff" stop-opacity="1"/></linearGradient></defs>
<rect x="1150" y="560" width="14" height="60" fill="url(#fd)"/>
<rect x="1164" y="560" width="76" height="60" fill="#fff"/>
<circle cx="1190.3" cy="590.5" r="26.6" fill="#eeeeee"/>
<text x="1190.3" y="602" font-size="31" fill="#888" text-anchor="middle">筹</text>
<text transform="translate(15.0,643) scale(0.85,1)" x="0" y="0" font-size="25.4" fill="#5b6168" stroke="#5b6168" stroke-width="0.45" letter-spacing="2.438">4210.06</text>
<text transform="translate(15.0,820.5) scale(0.85,1)" x="0" y="0" font-size="25.4" fill="#5b6168" stroke="#5b6168" stroke-width="0.45" letter-spacing="2.36">4039.20</text>
<text transform="translate(14.0,1025.5) scale(0.85,1)" x="0" y="0" font-size="25.4" fill="#5b6168" stroke="#5b6168" stroke-width="0.45" letter-spacing="2.56">3868.35</text>
<text transform="translate(14.0,1232.5) scale(0.85,1)" x="0" y="0" font-size="25.4" fill="#5b6168" stroke="#5b6168" stroke-width="0.45" letter-spacing="2.56">3697.50</text>
<text transform="translate(14.0,1437.5) scale(0.85,1)" x="0" y="0" font-size="25.4" fill="#5b6168" stroke="#5b6168" stroke-width="0.45" letter-spacing="2.56">3526.64</text>
<rect x="14" y="1452" width="101" height="48.5" rx="5" fill="#eeeeee"/>
<text x="20.5" y="1487.6" font-size="31.5" fill="#333">VOL</text>
<polygon points="82.7,1473 104.8,1473 93.75,1483.5" fill="#9a9a9a"/>
<text transform="translate(131.7,1487.6) scale(0.93,1)" x="0" y="0" font-size="31" fill="#666666" stroke="#666666" stroke-width="0.7" letter-spacing="0.984">VOLUME:6.47</text>
<text x="325.5" y="1487.6" font-size="28.5" fill="#666666">亿</text>
<text transform="translate(365.9,1487.6) scale(0.93,1)" x="0" y="0" font-size="31" fill="#b5b523" stroke="#b5b523" stroke-width="0.7" letter-spacing="3.477">MA5:7.77</text>
<text x="510.5" y="1487.6" font-size="28.5" fill="#b5b523">亿</text>
<text transform="translate(546.0,1487.6) scale(0.85,1)" x="0" y="0" font-size="31" fill="#c23fc8" stroke="#c23fc8" stroke-width="0.7" letter-spacing="4.04">10:7.01</text>
<text x="653" y="1487.6" font-size="28.5" fill="#c23fc8">亿</text>
<circle cx="1190.3" cy="1476.1" r="27.7" fill="#eeeeee"/>
<g stroke="#8f8f8f" stroke-width="3.6" fill="none" stroke-linecap="butt"><polyline points="1177.3,1474.5 1177.3,1463.3 1188.5,1463.3"/><line x1="1178.5" y1="1464.5" x2="1187.2" y2="1473.2"/><line x1="1192.8" y1="1478.8" x2="1201.8" y2="1487.8"/><polyline points="1203,1478.2 1203,1489.5 1191.8,1489.5"/></g>
<text transform="translate(14.3,1528.2) scale(0.85,1)" x="0" y="0" font-size="25" fill="#5b6168" stroke="#5b6168" stroke-width="0.45" letter-spacing="2.88">9.53</text>
<text x="62.8" y="1529.2" font-size="27" fill="#5b6168">亿</text>
<rect x="14" y="1838" width="98" height="46.4" rx="5" fill="#eeeeee"/>
<text x="19.7" y="1873.5" font-size="31" fill="#333">KDJ</text>
<polygon points="80.6,1857.4 100.8,1857.4 90.7,1869.5" fill="#9a9a9a"/>
<text transform="translate(120.0,1873.5) scale(0.85,1)" x="0" y="0" font-size="31" fill="#666666" stroke="#666666" stroke-width="0.7" letter-spacing="2.12">(9,3,3)</text>
<text transform="translate(211.7,1873.5) scale(0.93,1)" x="0" y="0" font-size="31" fill="#666666" stroke="#666666" stroke-width="0.7" letter-spacing="1.8">K:48.26</text>
<text transform="translate(332.7,1873.5) scale(0.93,1)" x="0" y="0" font-size="31" fill="#b5b523" stroke="#b5b523" stroke-width="0.7" letter-spacing="1.236">D:57.67</text>
<text transform="translate(449.6,1873.5) scale(0.93,1)" x="0" y="0" font-size="31" fill="#c23fc8" stroke="#c23fc8" stroke-width="0.7" letter-spacing="1.565">J:29.44</text>
<text transform="translate(15.0,1913.5) scale(0.85,1)" x="0" y="0" font-size="25" fill="#5b6168" stroke="#5b6168" stroke-width="0.45" letter-spacing="2.988">113.03</text>
<text transform="translate(14.6,2207.8) scale(0.85,1)" x="0" y="0" font-size="25" fill="#5b6168" stroke="#5b6168" stroke-width="0.45" letter-spacing="2.585">17.96</text>
<text transform="translate(14.6,2242.3) scale(0.85,1)" x="0" y="0" font-size="26" fill="#444444" stroke="#444444" stroke-width="0.5" letter-spacing="2.684">2025/12/23</text>
<text x="183" y="2242.3" font-size="25.6" fill="#444444">周期数46个</text>
<text x="351" y="2242.3" font-size="25.4" fill="#444444">前复权</text>
<text transform="translate(1093.2,2242.3) scale(0.85,1)" x="0" y="0" font-size="26" fill="#444444" stroke="#444444" stroke-width="0.5" letter-spacing="2.684">2026/03/06</text>
<rect x="0" y="2257.5" width="1240" height="2" fill="#eeeeee"/>
<text x="50.5" y="2319.3" font-size="40" fill="#666666">特色</text>
<polygon points="143.5,2301.5 166.5,2301.5 155,2315" fill="#999"/>
<rect x="221.5" y="2280" width="2" height="45" fill="#eeeeee"/>
<text x="275.5" y="2319.3" font-size="40" fill="#666666">裸<tspan letter-spacing="-2">K</tspan>线</text>
<text x="431" y="2319.3" font-size="40" fill="#d43338">MA</text>
<text x="546.5" y="2319.3" font-size="40" fill="#666666">北上资金</text>
<text x="759.5" y="2319.3" font-size="40" fill="#666666">两融资金</text>
<text x="970.5" y="2319.3" font-size="40" fill="#666666">增减持资金</text>
<text x="1223" y="2319.3" font-size="40" fill="#666666">指标</text>
<rect x="0" y="2347" width="1240" height="17" fill="#f2f2f2"/>
<g filter="url(#ws)">
<path d="M484,2362 C482,2352 492,2343 503,2342 C509,2341.5 511,2345 509.5,2349 C514,2347.5 519,2349 518,2354 C521,2357 521,2363 515,2367.5 C508,2372 492,2372 486,2367 C484.5,2365.5 484,2364 484,2362 Z" fill="#fff"/>
<path d="M510.5,2344.5 a7.5,7.5 0 0 1 7.5,7.5 M510.5,2338 a14,14 0 0 1 14,14" fill="none" stroke="#fff" stroke-width="3.2" stroke-linecap="round"/>
<text x="533" y="2365.5" font-size="31.5" fill="#fff">@财富成长之路</text>
</g>
<ellipse cx="497" cy="2362" rx="8.5" ry="5.8" fill="none" stroke="#d6d6d6" stroke-width="2"/>
<circle cx="495.5" cy="2362.5" r="2" fill="#cfcfcf"/>
</svg>
</body></html>
